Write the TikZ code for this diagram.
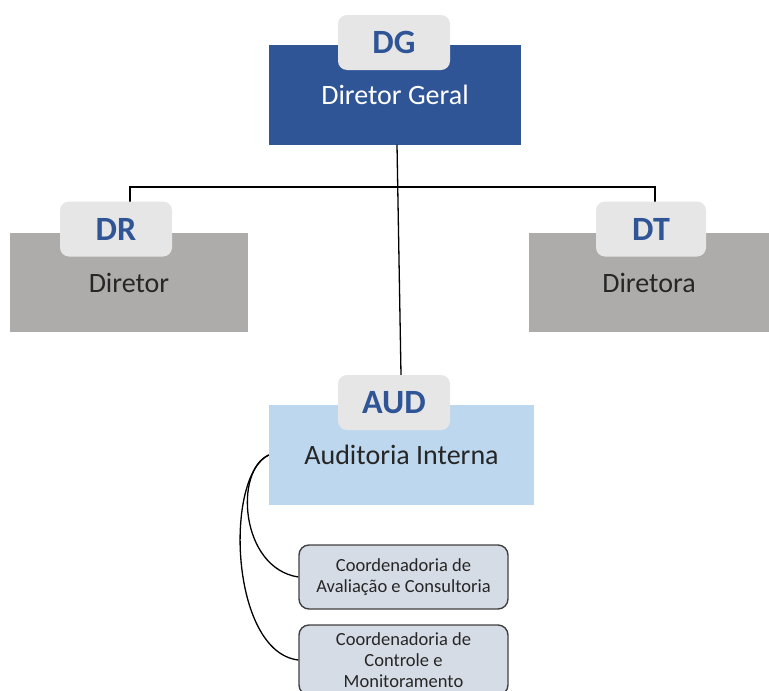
\documentclass[tikz,border=0pt]{standalone}
\usepackage{fontspec}
\setmainfont{Carlito}
\usepackage{tikz}
\usetikzlibrary{positioning, calc}
\usepackage{xcolor}

\definecolor{dgblue}{HTML}{2F5597}
\definecolor{tabgray}{HTML}{E7E6E6}
\definecolor{boxgray}{HTML}{AEABAB}
\definecolor{audblue}{HTML}{BDD7EE}
\definecolor{coordfill}{HTML}{D6DCE5}
\definecolor{coordline}{HTML}{404040}
\definecolor{textdark}{HTML}{262626}

\tikzset{
	unitbox/.style={minimum width=#1, minimum height=100, inner sep=0pt,
		font=\fontsize{28}{34}\selectfont},
	tabbox/.style={fill=tabgray, rounded corners=9, minimum width=112,
		minimum height=55, inner sep=0pt, text=dgblue,
		font=\fontsize{34}{40}\selectfont\bfseries},
	coordbox/.style={draw=coordline, line width=1.4, fill=coordfill,
		rounded corners=10, minimum width=209, align=center, inner sep=0pt,
		text=textdark, font=\fontsize{18.5}{21}\selectfont},
	link/.style={line width=1.3, black}
}

\begin{document}
\begin{tikzpicture}[x=1pt, y=-1pt]
		
		\useasboundingbox (0,0) rectangle (769,691);
		\clip (0,0) rectangle (769,691);
		
		% Connectors behind the boxes
		\coordinate (drtop) at (130,202);
		\coordinate (dttop) at (655,202);
		\draw[link] (drtop) -- ++(0,-15) -| (dttop);
		
		% Units
		\node[unitbox=252, fill=dgblue, text=white] (dg) at (395,94.5) {Diretor Geral};
		\node[tabbox] (dgtab) at (394,42.5) {DG};
		
		\node[unitbox=238, fill=boxgray, text=textdark, minimum height=99] (dr) at (129,282.5) {Diretor};
		\node[tabbox] (drtab) at (116,229) {DR};
		
		\node[unitbox=240, fill=boxgray, text=textdark, minimum height=99] (dt) at (649,282.5) {Diretora};
		\node[tabbox, minimum width=110] (dttab) at (651,229) {DT};
		
		\node[unitbox=265, fill=audblue, text=textdark] (aud) at (401.5,455) {Auditoria Interna};
		\node[tabbox] (audtab) at (394,402.5) {AUD};
		
		% Coordenadorias
		\node[coordbox, minimum height=64] (cav) at (403.5,577) {Coordenadoria de\\Avaliação e Consultoria};
		\node[coordbox, minimum height=70] (cco) at (403.5,660) {Coordenadoria de\\Controle e\\Monitoramento};
		
		% Links
		\draw[link] ($(dg.south)+(2,0)$) -- ($(audtab.north)+(7,0)$);
		\draw[link] (aud.west) .. controls (234,470) and (240,568) .. (cav.west);
		\draw[link] (aud.west) .. controls (224,476) and (230,652) .. (cco.west);
		
	\end{tikzpicture}
\end{document}
